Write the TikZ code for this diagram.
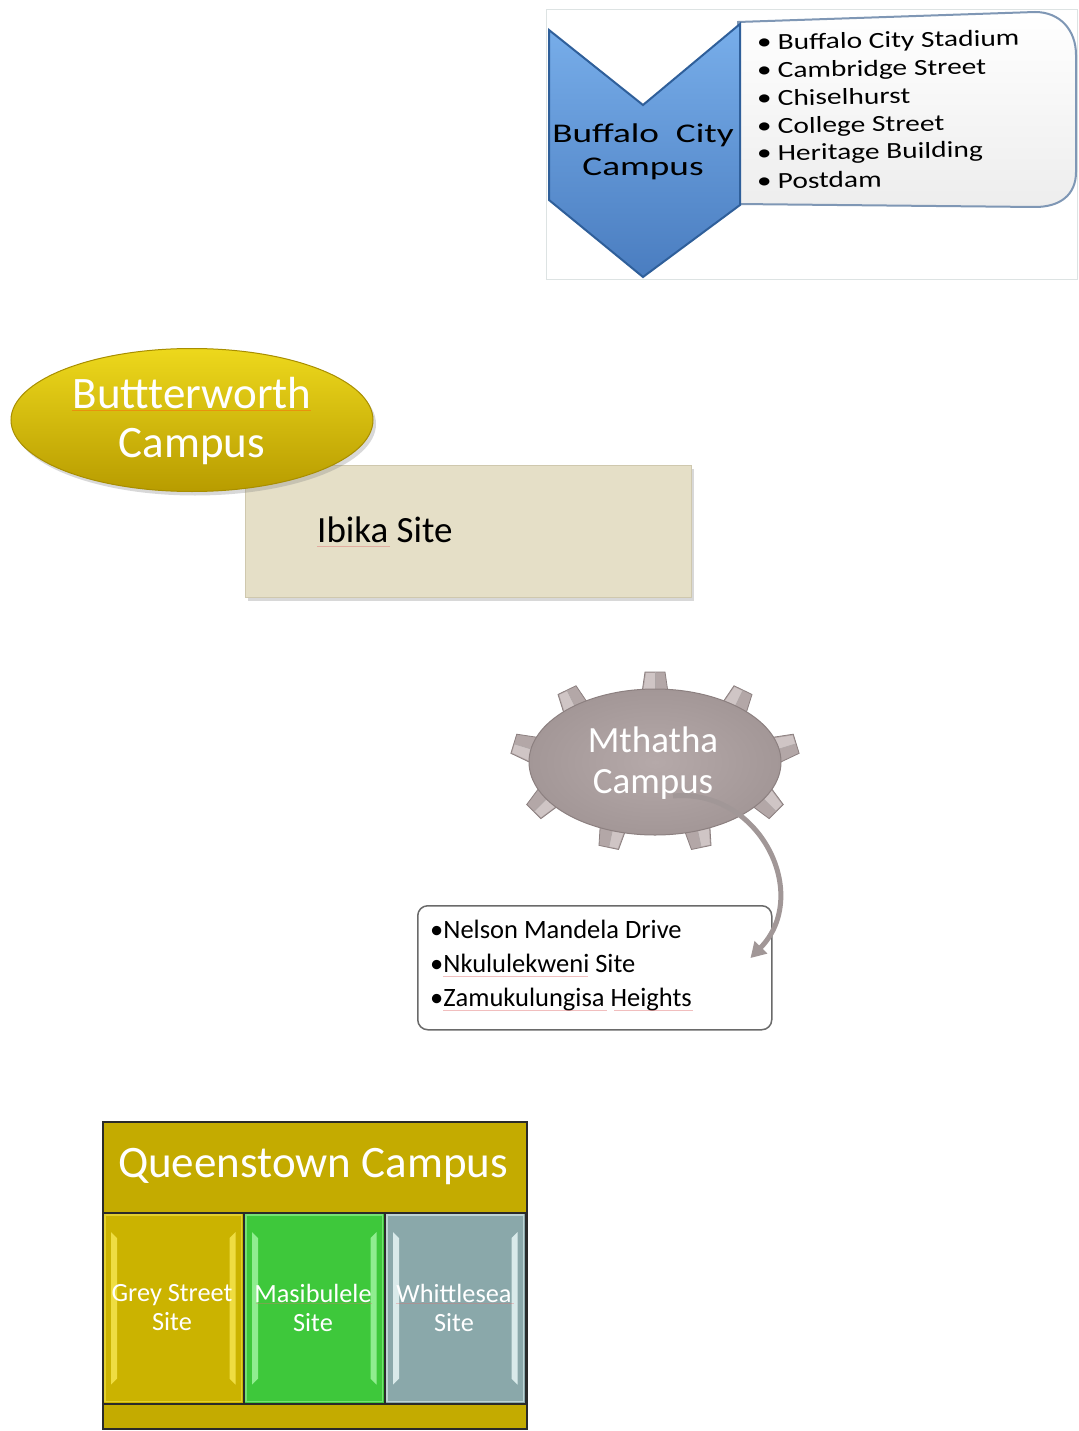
\documentclass[tikz,border=0pt]{standalone}
\usepackage{fontspec}
\setmainfont{Carlito}
\newfontfamily\wideA[FakeStretch=1.28]{Carlito}
\newfontfamily\wideB[FakeStretch=1.38]{Carlito}
\usetikzlibrary{shapes.geometric,shadows,arrows.meta,calc}
\definecolor{framec}{HTML}{DDE3E3}
\definecolor{callb}{HTML}{7F97B5}
\definecolor{callf}{HTML}{EDEDED}
\definecolor{chevb}{HTML}{2F5F9A}
\definecolor{chevt}{HTML}{78AEEA}
\definecolor{chevbot}{HTML}{4A7DC0}
\definecolor{ibf}{HTML}{E5DFC7}
\definecolor{ibb}{HTML}{CFC8AE}
\definecolor{bwtop}{HTML}{EDD81C}
\definecolor{bwmid}{HTML}{D4BA00}
\definecolor{bwbot}{HTML}{B89C00}
\definecolor{bwb}{HTML}{A88E00}
\definecolor{gearin}{HTML}{B5A9A9}
\definecolor{gearout}{HTML}{A39797}
\definecolor{gearb}{HTML}{8C8080}
\definecolor{tooth}{HTML}{B3A7A7}
\definecolor{toothlt}{HTML}{CFC5C5}
\definecolor{arrowc}{HTML}{A19797}
\definecolor{listb}{HTML}{6A6A6A}
\definecolor{qgold}{HTML}{C4AB00}
\definecolor{qb}{HTML}{2A2A2A}
\definecolor{cA}{HTML}{CBB300}
\definecolor{cAh}{HTML}{F3E24A}
\definecolor{cB}{HTML}{3EC83B}
\definecolor{cBh}{HTML}{9AF29A}
\definecolor{cC}{HTML}{8AA8AA}
\definecolor{cCh}{HTML}{E2F2F2}
\definecolor{spell}{HTML}{E07070}
\tikzset{
  colbox/.style={draw=qb, line width=1.5pt, minimum width=141pt, minimum height=191pt, anchor=north west, inner sep=0pt},
  coltext/.style={text=white, align=center, font=\fontsize{26.3}{29}\selectfont},
  bullet/.style={anchor=base west, font=\wideA\fontsize{23}{26}\selectfont, rotate=1, inner sep=0pt},
  listline/.style={anchor=base west, font=\fontsize{26.5}{30}\selectfont, inner sep=0pt},
  spellline/.style={spell, line width=0.9pt, opacity=0.45},
  toothstyle/.style={fill=tooth, draw=gearb, line width=0.8pt}
}
\begin{document}
\begin{tikzpicture}[x=1pt,y=1pt]
\useasboundingbox (0,0) rectangle (1078,-1431);
\fill[white] (0,0) rectangle (1078,-1431);

% ---------- Buffalo City ----------
\draw[framec, line width=1pt] (546,-10) rectangle (1077,-279);
\path[draw=callb, line width=2pt, top color=white, bottom color=callf]
  (738,-22) -- (1035,-12) .. controls (1060,-12) and (1076,-30) .. (1076,-55)
  -- (1076,-172) .. controls (1076,-195) and (1060,-207) .. (1035,-207)
  -- (738,-204) -- cycle;
\path[draw=chevb, line width=2pt, top color=chevt, bottom color=chevbot]
  (549,-30) -- (643,-105) -- (740,-24) -- (740,-205) -- (643,-277) -- (549,-200) -- cycle;
\node[font=\wideB\fontsize{27}{33}\selectfont, align=center, inner sep=0pt] (bc) at (643,-152) {Buffalo\ \ City\\Campus};
\node[bullet] (b1) at (757,-50) {\textbullet\hspace{6pt}Buffalo City Stadium};
\node[bullet] (b2) at (757,-78) {\textbullet\hspace{6pt}Cambridge Street};
\node[bullet] (b3) at (757,-106) {\textbullet\hspace{6pt}Chiselhurst};
\node[bullet] (b4) at (757,-134) {\textbullet\hspace{6pt}College Street};
\node[bullet] (b5) at (757,-161) {\textbullet\hspace{6pt}Heritage Building};
\node[bullet] (b6) at (757,-189) {\textbullet\hspace{6pt}Postdam};

% ---------- Butterworth ----------
\node[draw=ibb, line width=1pt, fill=ibf, minimum width=446pt, minimum height=132pt, anchor=north west,
      drop shadow={opacity=0.3, shadow xshift=2pt, shadow yshift=-3pt}] (ib) at (245,-465) {};
\node[anchor=base west, font=\fontsize{37}{40}\selectfont, inner sep=0pt] (ibt) at (317,-542) {Ibika Site};
\draw[spellline] (317,-546) -- (390,-546);
\node[ellipse, minimum width=362pt, minimum height=143pt, draw=bwb, line width=1pt,
      top color=bwtop, middle color=bwmid, bottom color=bwbot,
      drop shadow={opacity=0.3, shadow xshift=3pt, shadow yshift=-4pt}] (bw) at (192,-420) {};
\node[font=\fontsize{45}{49}\selectfont, text=white, align=center, inner sep=0pt] (bwt) at (192,-421) {Buttterworth\\Campus};
\draw[orange!80!brown, line width=1pt, opacity=0.7] (72,-410) -- (311,-410);

% ---------- Mthatha ----------
\foreach \a in {90,130,...,410}{
  \pgfmathsetmacro\bx{655+122*cos(\a)}
  \pgfmathsetmacro\by{-762+68*sin(\a)}
  \pgfmathsetmacro\ang{atan2(sin(\a)/72, cos(\a)/125)}
  \draw[toothstyle, shift={(\bx,\by)}, rotate=\ang] (-12,-15) -- (22,-10) -- (22,10) -- (-12,15) -- cycle;
  \fill[toothlt, shift={(\bx,\by)}, rotate=\ang] (-6,0) -- (21,0) -- (21,9) -- (-6,13) -- cycle;
  \draw[gearb!70, line width=0.6pt, shift={(\bx,\by)}, rotate=\ang] (22,0) -- (-6,0);
}
\node[ellipse, minimum width=252pt, minimum height=146pt, draw=gearb, line width=1pt,
      inner color=gearin, outer color=gearout] (mth) at (655,-762) {};
\node[font=\fontsize{37}{41}\selectfont, text=white, align=center, inner sep=0pt] (mtht) at (653,-763) {Mthatha\\Campus};

\node[draw=listb, line width=1.5pt, rounded corners=10pt, fill=white, minimum width=354pt, minimum height=124pt, anchor=north west] (lb) at (417,-905) {};
\node[listline] (l1) at (430,-938) {•Nelson Mandela Drive};
\node[listline] (l2) at (430,-972) {•Nkululekweni Site};
\node[listline] (l3) at (430,-1006) {•Zamukulungisa Heights};
\draw[spellline] (443,-976) -- (588,-976);
\draw[spellline] (443,-1010) -- (607,-1010);
\draw[spellline] (614,-1010) -- (693,-1010);

\coordinate (as) at ($(mth.center)+(18,-34)$);
\coordinate (ae) at ($(lb.north east)+(-22,-53)$);
\draw[arrowc, line width=5pt, -{Triangle[length=15pt,width=17pt]}]
  (as) .. controls (760,-788) and (812,-895) .. (ae);

% ---------- Queenstown ----------
\node[draw=qb, line width=1.5pt, fill=qgold, minimum width=424pt, minimum height=307pt, anchor=north west, inner sep=0pt] (qt) at (102,-1121) {};
\node[text=white, font=\fontsize{45}{50}\selectfont, inner sep=0pt] (qtt) at (313,-1167) {Queenstown Campus};
\node[colbox, fill=cA] (cg) at (102,-1212) {};
\node[colbox, fill=cB] (cm) at (243,-1212) {};
\node[colbox, fill=cC] (cw) at (384,-1212) {};
\foreach \n/\h in {cg/cAh, cm/cBh, cw/cCh}{
  \draw[\h, line width=1.5pt, opacity=0.6] ($(\n.north west)+(3,-3)$) rectangle ($(\n.south east)+(-3,3)$);
  \fill[\h, opacity=0.9] ($(\n.north west)+(9,-20)$) -- ($(\n.north west)+(15,-26)$) -- ($(\n.south west)+(15,26)$) -- ($(\n.south west)+(9,20)$) -- cycle;
  \fill[\h, opacity=0.9] ($(\n.north east)+(-9,-20)$) -- ($(\n.north east)+(-15,-26)$) -- ($(\n.south east)+(-15,26)$) -- ($(\n.south east)+(-9,20)$) -- cycle;
}
\node[coltext] (cgt) at (172,-1308) {Grey Street\\Site};
\node[coltext] (cmt) at (313,-1308) {Masibulele\\Site};
\node[coltext] (cwt) at (454,-1308) {Whittlesea\\Site};
\draw[spellline, opacity=0.35] (256,-1303) -- (372,-1303);
\draw[spellline, opacity=0.35] (396,-1303) -- (514,-1303);
\end{tikzpicture}
\end{document}
